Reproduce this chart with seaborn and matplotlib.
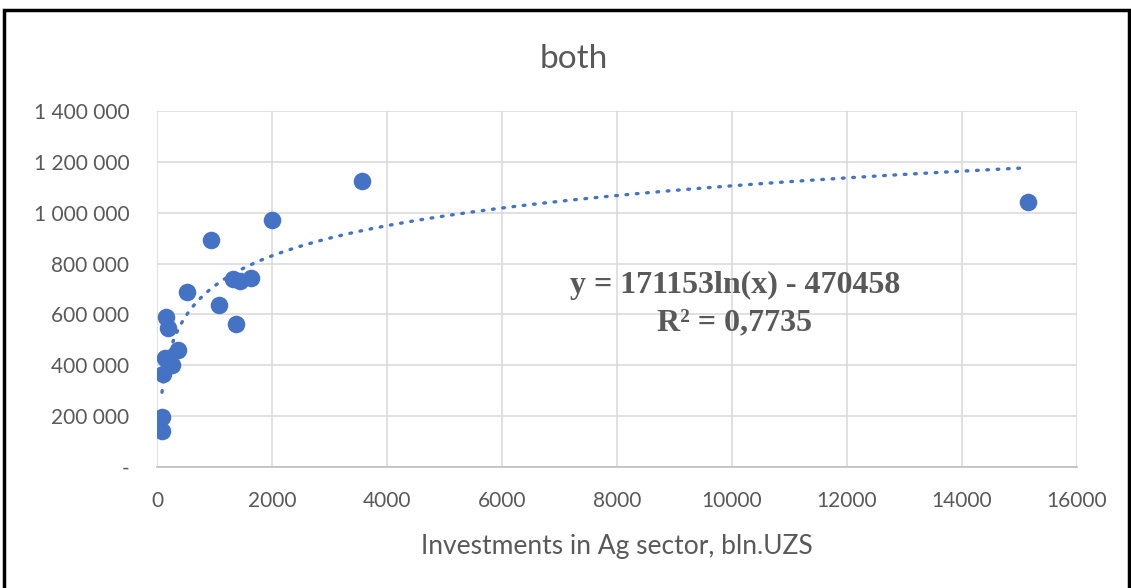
import numpy as np
import pandas as pd
import matplotlib
matplotlib.use("Agg")
import matplotlib.pyplot as plt
import seaborn as sns
from matplotlib.patches import Rectangle
from matplotlib.ticker import FuncFormatter

# ── Data ──────────────────────────────────────────────────────────────────────
invest = [87, 87, 104, 139, 157, 191, 261, 365, 522, 939, 1078,
          1322, 1374, 1443, 1635, 2000, 3565, 15148]
output = [140000, 195000, 366000, 429000, 590000, 547000, 401000, 460000,
          688000, 893000, 637000, 739000, 562000, 731000, 743000, 971000,
          1125000, 1042000]

# log trendline as printed on the chart
COEF_A = 171153
COEF_B = -470458
R2_TXT = "0,7735"

BLUE = "#4472C4"
GREY = "#595959"

df = pd.DataFrame({"x": invest, "y": output})

sns.set_theme(style="white")
plt.rcParams["font.family"] = ["Lato", "DejaVu Sans"]

fig = plt.figure(figsize=(11.31, 5.88), dpi=100)
fig.patch.set_facecolor("white")
ax = fig.add_axes([0.1388, 0.2058, 0.8135, 0.6054])

# trendline (dotted)
xs = np.linspace(min(invest), max(invest), 600)
ys = COEF_A * np.log(xs) + COEF_B
ax.plot(xs, ys, color=BLUE, lw=2.4, linestyle=(0, (0.5, 2.6)),
        dash_capstyle="round", zorder=2)

sns.scatterplot(data=df, x="x", y="y", ax=ax, color=BLUE, s=160,
                edgecolor=BLUE, linewidth=0, zorder=3)

ax.set_xlim(0, 16000)
ax.set_ylim(0, 1400000)
ax.set_xticks(np.arange(0, 16001, 2000))
ax.set_yticks(np.arange(0, 1400001, 200000))


def fmt_y(v, _pos):
    if v == 0:
        return "-"
    return f"{int(v):,}".replace(",", " ")


ax.yaxis.set_major_formatter(FuncFormatter(fmt_y))
ax.grid(True, color="#D9D9D9", lw=1.1)
ax.set_axisbelow(True)
for side in ["top", "right", "left"]:
    ax.spines[side].set_visible(False)
ax.spines["bottom"].set_color("#BFBFBF")
ax.spines["bottom"].set_linewidth(1.2)
ax.tick_params(axis="both", length=0, labelsize=15, colors=GREY)
ax.tick_params(axis="x", pad=17)
ax.tick_params(axis="y", pad=20)

ax.set_xlabel("Investments in Ag sector, bln.UZS", fontsize=19, color=GREY,
              labelpad=17)
ax.set_ylabel("")
fig.text(0.507, 0.899, "both", ha="center", va="center", fontsize=24,
         color=GREY)

# equation label
ax.text(0.628, 0.511, f"y = {COEF_A}ln(x) - {abs(COEF_B)}",
        transform=ax.transAxes, ha="center", va="center", fontsize=23,
        fontweight="bold", family="Liberation Serif", color=GREY)
ax.text(0.628, 0.404, f"R² = {R2_TXT}", transform=ax.transAxes,
        ha="center", va="center", fontsize=23, fontweight="bold",
        family="Liberation Serif", color=GREY)

# black frame around the chart area
fig.patches.append(Rectangle((0.0035, -0.05), 0.9945, 1.033,
                             transform=fig.transFigure, fill=False,
                             edgecolor="black", lw=2.5))

fig.savefig("out.png", dpi=100, facecolor="white")
